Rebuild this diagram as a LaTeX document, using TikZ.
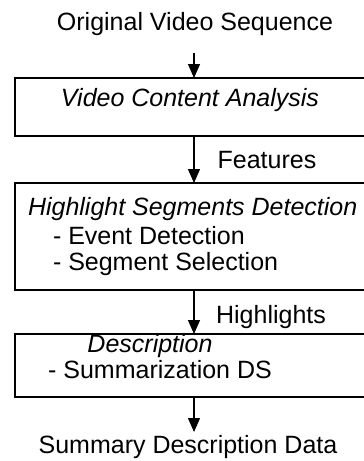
\documentclass[tikz,border=0pt]{standalone}
\usepackage{fontspec}
\setmainfont{Liberation Sans}
\usetikzlibrary{arrows.meta}
\begin{document}
\begin{tikzpicture}[x=1pt,y=-1pt,
  every node/.style={inner sep=0pt,outer sep=0pt,font=\fontsize{25}{30}\selectfont},
  boxnode/.style={draw,line width=1.5pt,rectangle,anchor=north west},
  lbl/.style={anchor=base},
  item/.style={anchor=base west},
  flow/.style={line width=1.3pt,-{Triangle[length=14pt,width=12pt]}}]
\useasboundingbox (0,0) rectangle (364,461);
\clip (0,0) rectangle (364,461);
% boxes (right edge runs off the picture)
\node[boxnode,minimum width=358pt,minimum height=58pt] (b1) at (15,78) {};
\node[boxnode,minimum width=358pt,minimum height=107pt] (b2) at (15,183) {};
\node[boxnode,minimum width=358pt,minimum height=63pt] (b3) at (15,334) {};
% texts
\node[lbl] (orig) at (195,30) {Original Video Sequence};
\node[lbl] (vca) at (190,106) {\itshape Video Content Analysis};
\node[lbl] (feat) at (267,168) {Features};
\node[item] (hsd) at (28,215) {\itshape Highlight Segments Detection};
\node[item] (ed) at (53,244) {- Event Detection};
\node[item] (ss) at (53,270) {- Segment Selection};
\node[lbl] (hl) at (271,323) {Highlights};
\node[lbl] (desc) at (150,352) {\itshape Description};
\node[lbl] (sds) at (160,378) {- Summarization DS};
\node[lbl] (sdd) at (188,453) {Summary Description Data};
% connectors
\coordinate (a0) at (194,53);
\coordinate (a4) at (194,432);
\draw[flow] (a0) -- (b1.north);
\draw[flow] (b1.south) -- (b2.north);
\draw[flow] (b2.south) -- (b3.north);
\draw[flow] (b3.south) -- (a4);
\end{tikzpicture}
\end{document}
